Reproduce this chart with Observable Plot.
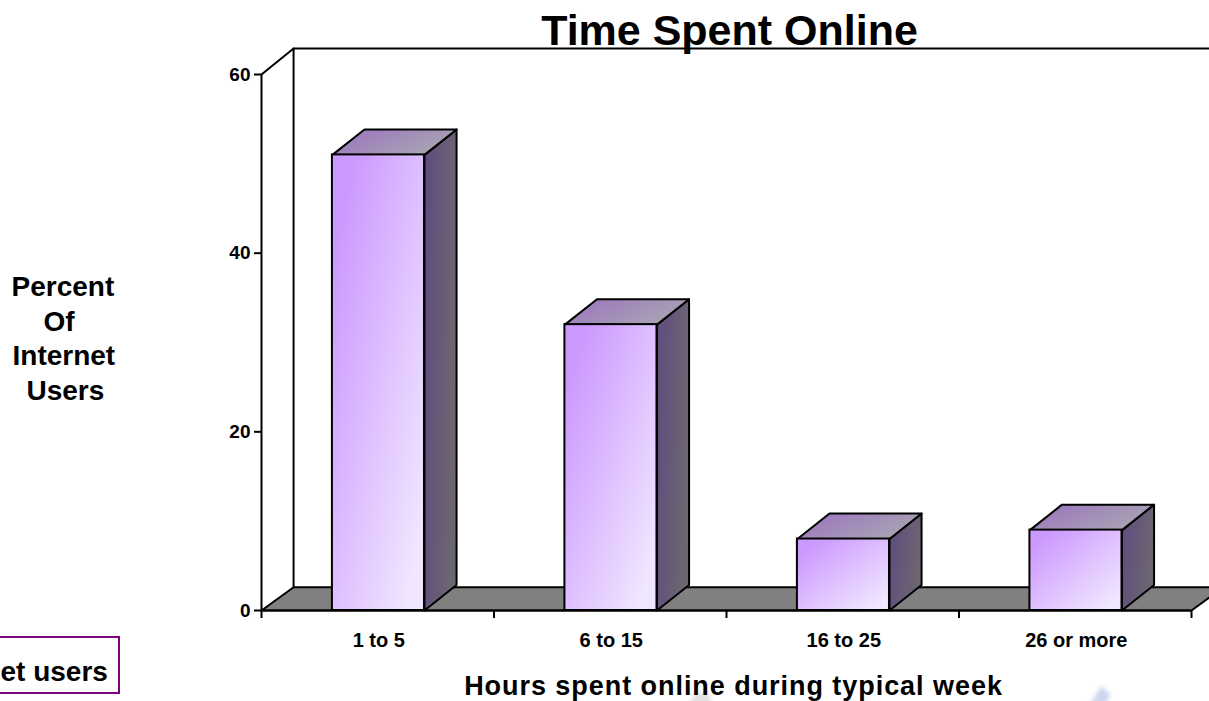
<!DOCTYPE html>
<html>
<head>
<meta charset="utf-8">
<script src="https://cdn.jsdelivr.net/npm/d3@7"></script>
<script src="https://cdn.jsdelivr.net/npm/@observablehq/plot@0.6"></script>
<style>
html,body{margin:0;padding:0;background:#fff;overflow:hidden}
svg{display:block}
</style>
</head>
<body>
<div id="chart"></div>
<script>
const titleText = "Time Spent Online";
const xTitle = "Hours spent online during typical week";
const yTitleLines = ["Percent", "Of", "Internet", "Users"];
const yTitleDx = [-250, -218, -249, -235];
const boxText = "et users";
const categories = ["1 to 5", "6 to 15", "16 to 25", "26 or more"];
const percents = [51, 32, 8, 9];
const yTicks = [0, 20, 40, 60];

const FONT = "'Liberation Sans', Arial, sans-serif";
const depthX = 0.138, wallDepthY = 2.9, floorDepthY = 2.6, barDepthY = 2.85, halfBar = 0.198, barCenter = 0.503;
const n = categories.length, yMax = 60, SW = 2;

const closed = (id, pts) => pts.concat([pts[0]]).map(([x, y]) => ({id, x, y}));
const floorPoly = closed("floor", [[0,0],[n,0],[n+depthX,floorDepthY],[depthX,floorDepthY]]);
const wallLine = [[0,yMax],[depthX,yMax+wallDepthY],[n+depthX,yMax+wallDepthY]].map(([x,y]) => ({x,y}));
const wallBack = [[depthX,yMax+wallDepthY],[depthX,floorDepthY]].map(([x,y]) => ({x,y}));
const bars = categories.map((c, i) => ({c, x1: i + barCenter - halfBar, x2: i + barCenter + halfBar, v: percents[i]}));
const sides = bars.flatMap((b, i) => closed("s" + i, [[b.x2,0],[b.x2+depthX,barDepthY],[b.x2+depthX,b.v+barDepthY],[b.x2,b.v]]));
const tops = bars.flatMap((b, i) => closed("t" + i, [[b.x1,b.v],[b.x2,b.v],[b.x2+depthX,b.v+barDepthY],[b.x1+depthX,b.v+barDepthY]]));

function grad(id, x2, y2, stops) {
  return `<linearGradient id="${id}" x1="0" y1="0" x2="${x2}" y2="${y2}">` +
    stops.map(([o, c]) => `<stop offset="${o}" stop-color="${c}"/>`).join("") + `</linearGradient>`;
}
const defs = () => {
  const g = d3.create("svg:g");
  g.html(`<defs>` +
    grad("frontGrad", 1, 1, [[0.12, "#CC99FF"], [0.9, "#F0E6FF"]]) +
    grad("sideGrad", 1, 0.3, [[0, "#604A80"], [1, "#6C6670"]]) +
    grad("topGrad", 1, 0.5, [[0, "#9A72C0"], [1, "#A9A3B3"]]) +
    `<filter id="soft"><feGaussianBlur stdDeviation="2"/></filter></defs>`);
  return g.node();
};
// Faint remains of the slide's background picture along the bottom edge.
const backdrop = () => {
  const g = d3.create("svg:g").attr("filter", "url(#soft)");
  g.append("path").attr("d", "M688,704L696,694L708,692L712,704Z").attr("fill", "#e0e0e0");
  g.append("path").attr("d", "M1090,704L1101,686L1110,694L1106,704Z").attr("fill", "#ccd5ee");
  return g.node();
};
// The clipped caption box at the lower left of the slide.
const captionBox = () => d3.create("svg:rect")
  .attr("x", -3).attr("y", 637).attr("width", 122).attr("height", 56)
  .attr("fill", "none").attr("stroke", "#800080").attr("stroke-width", 2).node();

const plot = Plot.plot({
  width: 1209, height: 701,
  marginLeft: 261, marginRight: 18, marginTop: 74, marginBottom: 91,
  style: {background: "#fff", fontFamily: FONT, overflow: "hidden"},
  x: {type: "linear", domain: [0, n], axis: null},
  y: {type: "linear", domain: [0, yMax], axis: null},
  marks: [
    defs,
    backdrop,
    Plot.line(floorPoly, {x: "x", y: "y", fill: "#808080", stroke: "#000", strokeWidth: SW}),
    Plot.line(wallBack, {x: "x", y: "y", stroke: "#000", strokeWidth: SW}),
    Plot.line(wallLine, {x: "x", y: "y", stroke: "#000", strokeWidth: SW}),
    Plot.ruleX([0], {y1: 0, y2: yMax, stroke: "#000", strokeWidth: SW}),
    Plot.ruleY([0], {x1: 0, x2: n, stroke: "#000", strokeWidth: SW}),
    Plot.line(sides, {x: "x", y: "y", z: "id", fill: "url(#sideGrad)", stroke: "#000", strokeWidth: SW, strokeLinejoin: "round"}),
    Plot.line(tops, {x: "x", y: "y", z: "id", fill: "url(#topGrad)", stroke: "#000", strokeWidth: SW, strokeLinejoin: "round"}),
    Plot.rect(bars, {x1: "x1", x2: "x2", y1: 0, y2: "v", fill: "url(#frontGrad)", stroke: "#000", strokeWidth: SW}),
    Plot.axisY({ticks: yTicks, tickSize: 7, tickPadding: 4, fontSize: 19, fontWeight: "bold", stroke: "#000", strokeWidth: SW, fill: "#000", label: null}),
    Plot.axisX({ticks: d3.range(n + 1), tickSize: 8, tickFormat: () => "", stroke: "#000", strokeWidth: SW, label: null}),
    Plot.axisX({ticks: categories.map((c, i) => i + 0.5), tickSize: 0, tickPadding: 22, dx: 1, tickFormat: d => categories[d - 0.5], fontSize: 20, fontWeight: "bold", fill: "#000", label: null}),
    Plot.text([titleText], {frameAnchor: "top", dx: 3, dy: -60, fontSize: 43, fontWeight: "bold", fill: "#000", lineAnchor: "top"}),
    Plot.text([xTitle], {frameAnchor: "bottom", dx: 7, dy: 84, fontSize: 27, fontWeight: "bold", fill: "#000"}),
    ...yTitleLines.map((t, i) => Plot.text([t], {frameAnchor: "left", dx: yTitleDx[i], dy: i * 34.5 - 55, fontSize: 28, fontWeight: "bold", fill: "#000", textAnchor: "start"})),
    captionBox,
    Plot.text([boxText], {frameAnchor: "bottom-left", dx: -261, dy: 70, fontSize: 28, fontWeight: "bold", fill: "#000", textAnchor: "start"}),
  ]
});
d3.select(plot).selectAll("text").filter(function () { return this.textContent === xTitle; }).style("letter-spacing", "0.95px");
document.getElementById("chart").append(plot);
</script>
</body>
</html>
